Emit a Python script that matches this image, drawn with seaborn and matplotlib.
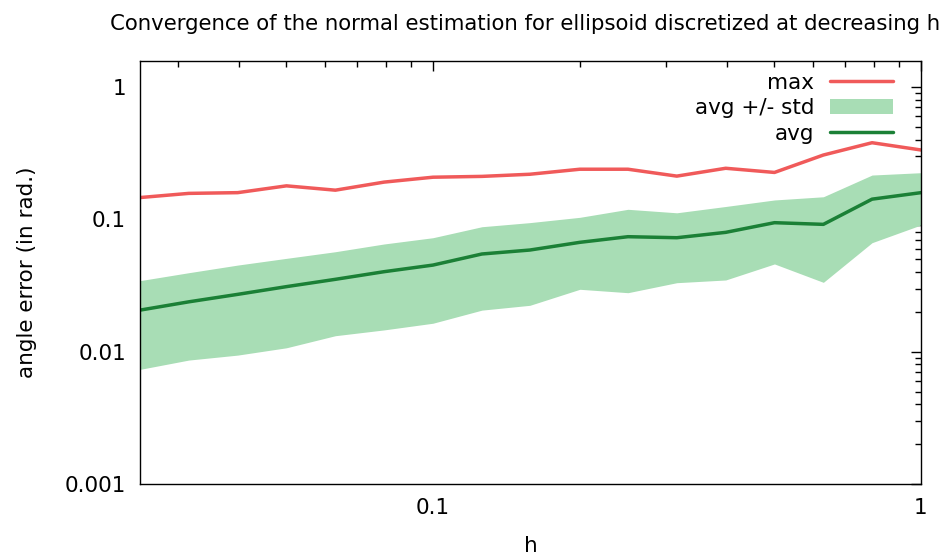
import numpy as np
import pandas as pd
import matplotlib
matplotlib.use("Agg")
import matplotlib.pyplot as plt
import seaborn as sns
from matplotlib.ticker import LogLocator, FuncFormatter, NullFormatter

# Datos (h decreciente)
h = [1.0, 0.794, 0.631, 0.501, 0.398, 0.316, 0.251, 0.2, 0.158, 0.126,
     0.1, 0.0794, 0.0631, 0.0501, 0.0398, 0.0316, 0.0251]
err_max = [0.334, 0.379, 0.306, 0.226, 0.243, 0.212, 0.239, 0.239, 0.219, 0.211,
           0.208, 0.191, 0.166, 0.179, 0.159, 0.157, 0.146]
err_avg = [0.159, 0.142, 0.0916, 0.0943, 0.0797, 0.0726, 0.0739, 0.0670, 0.0586, 0.0547,
           0.0451, 0.0402, 0.0352, 0.0310, 0.0271, 0.0238, 0.0206]
err_hi = [0.225, 0.216, 0.148, 0.140, 0.125, 0.112, 0.119, 0.1035, 0.0944, 0.0879,
          0.0726, 0.0651, 0.0569, 0.0507, 0.0451, 0.0395, 0.0344]
err_lo = [0.0906, 0.0666, 0.0334, 0.0460, 0.0348, 0.0332, 0.0279, 0.0296, 0.0224, 0.0206,
          0.0164, 0.0146, 0.0132, 0.0107, 0.00942, 0.00864, 0.00735]

df = pd.DataFrame({"h": h, "max": err_max, "avg": err_avg, "hi": err_hi, "lo": err_lo})

sns.set_style("white")
plt.rcParams["font.family"] = ["DejaVu Sans"]
plt.rcParams["text.color"] = "black"
plt.rcParams["axes.labelcolor"] = "black"
plt.rcParams["xtick.color"] = "black"
plt.rcParams["ytick.color"] = "black"

fs = 15.5
fig = plt.figure(figsize=(9.47, 5.57), dpi=100)
ax = fig.add_axes([0.1478, 0.131, 0.8247, 0.7595])

sns.lineplot(data=df, x="h", y="max", ax=ax, color="#f05a5a", linewidth=2.5, label="max")
ax.fill_between(df["h"], df["lo"], df["hi"], color="#a8ddb5", linewidth=0, label="avg +/- std")
sns.lineplot(data=df, x="h", y="avg", ax=ax, color="#1b8036", linewidth=2.5, label="avg")

ax.set_xscale("log")
ax.set_yscale("log")
ax.set_xlim(0.0251, 1)
ax.set_ylim(0.001, np.pi / 2)

fmt = FuncFormatter(lambda v, p: f"{v:g}")
ax.xaxis.set_major_locator(LogLocator(base=10))
ax.yaxis.set_major_locator(LogLocator(base=10))
ax.xaxis.set_minor_locator(LogLocator(base=10, subs=np.arange(2, 10)))
ax.yaxis.set_minor_locator(LogLocator(base=10, subs=np.arange(2, 10)))
ax.xaxis.set_major_formatter(fmt)
ax.yaxis.set_major_formatter(fmt)
ax.xaxis.set_minor_formatter(NullFormatter())
ax.yaxis.set_minor_formatter(NullFormatter())

ax.tick_params(which="both", direction="in", top=True, right=True, color="black",
               labelcolor="black", labelsize=fs, pad=10)
ax.tick_params(which="major", length=7, width=1)
ax.tick_params(which="minor", length=4, width=1)
for s in ax.spines.values():
    s.set_color("black")
    s.set_linewidth(1)

ax.set_xlabel("h", fontsize=fs, labelpad=13)
ax.set_ylabel("angle error (in rad.)", fontsize=fs, labelpad=20)
ax.set_title("Convergence of the normal estimation for ellipsoid discretized at decreasing h",
             fontsize=15.3, pad=22, x=0.493)

ax.legend(loc="upper right", bbox_to_anchor=(0.964, 0.972), frameon=False, fontsize=fs,
          markerfirst=False, handlelength=2.9, handletextpad=0.75, labelspacing=0.25,
          borderpad=0, borderaxespad=0)

plt.savefig("out.png", dpi=100)
